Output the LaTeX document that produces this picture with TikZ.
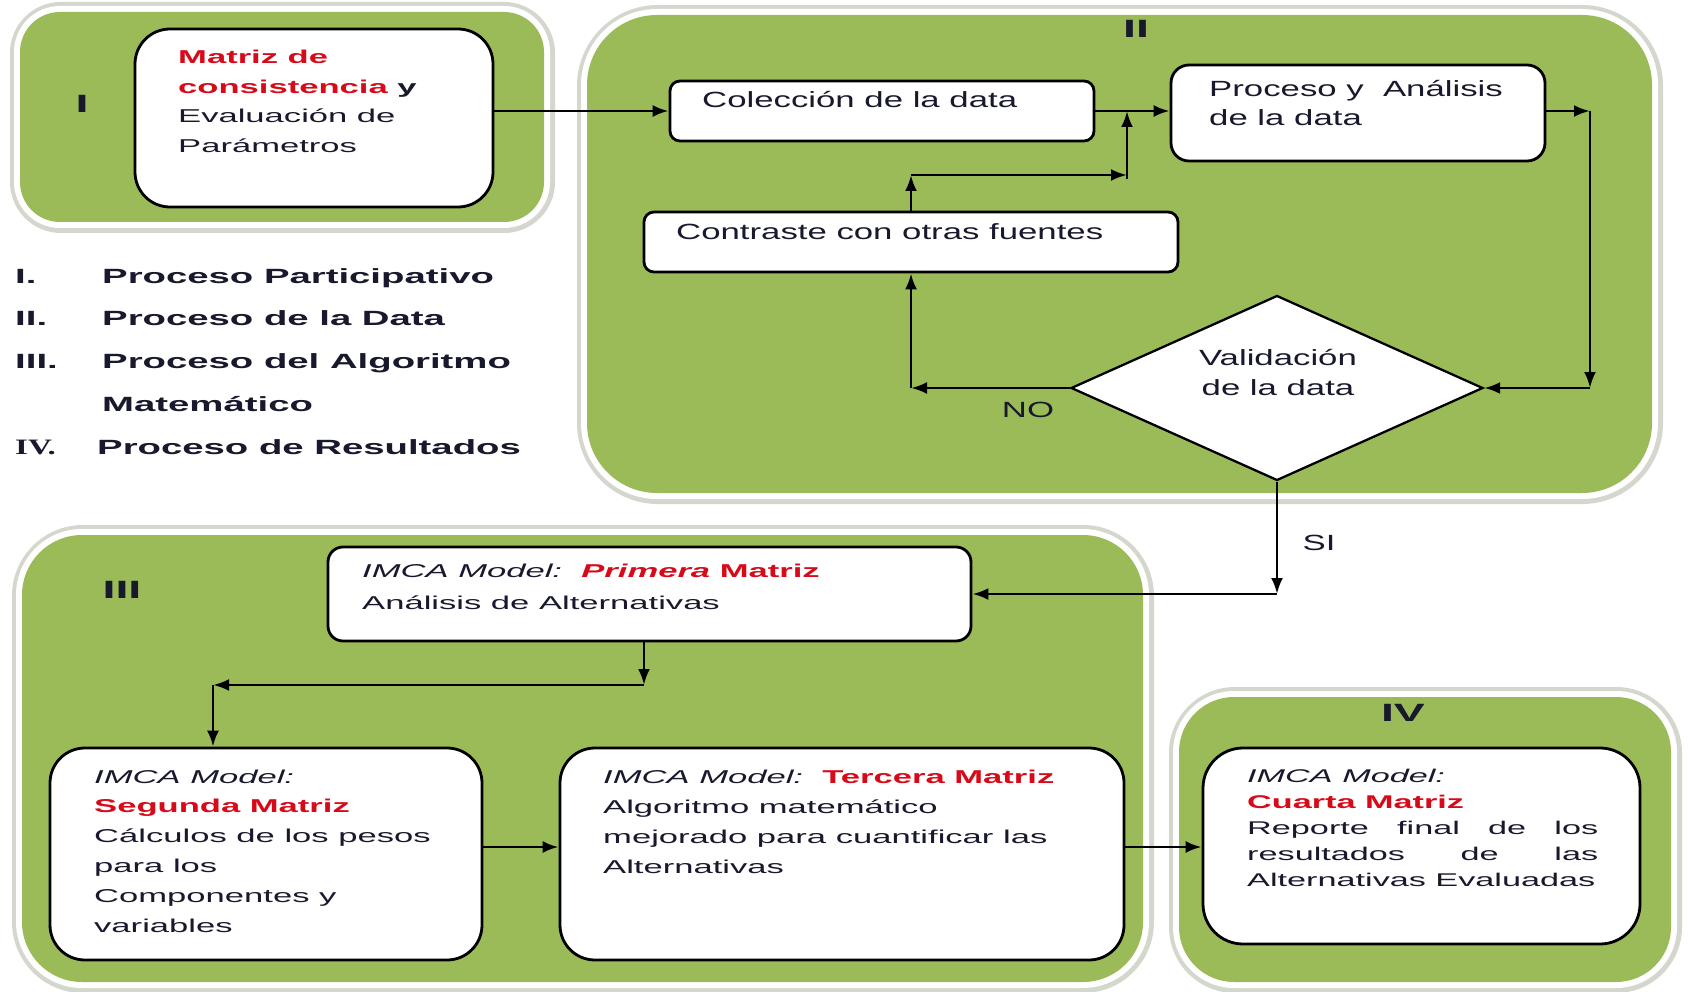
\documentclass[tikz,border=0pt]{standalone}
\usepackage{fontspec}
\setmainfont{Liberation Sans}[FakeStretch=1.86]
\newfontfamily\fII{Liberation Sans}[FakeStretch=1.58]
\newfontfamily\fser{Liberation Serif}[FakeStretch=1.5]
\usetikzlibrary{shapes.geometric,arrows.meta}
\definecolor{pgreen}{RGB}{155,187,89}
\definecolor{pring}{RGB}{212,215,205}
\definecolor{mred}{RGB}{215,10,25}
\definecolor{txt}{RGB}{25,25,45}
\tikzset{
  wbox/.style={draw=black, line width=2.8pt, fill=white, inner sep=0pt},
  arr/.style={line width=2.7pt, -{Latex[length=16pt,width=12pt]}},
  btxt/.style={inner sep=0pt, anchor=north west, align=left, text=txt,
     font=\fontsize{18.6pt}{29.5pt}\selectfont},
  iitxt/.style={inner sep=0pt, text=txt, font=\fII\fontsize{22pt}{29.5pt}\selectfont},
  legtxt/.style={inner sep=0pt, anchor=mid west, text=txt, font=\bfseries\fontsize{20.6pt}{24pt}\selectfont},
  roman/.style={inner sep=0pt, text=txt, font=\bfseries\fontsize{25pt}{26pt}\selectfont},
}
\begin{document}
\begin{tikzpicture}[x=1pt,y=-1pt]
\useasboundingbox (0,0) rectangle (1688,992);
\fill[white] (0,0) rectangle (1688,992);
% panel I
\fill[pring, rounded corners=51pt] (10,2) rectangle (555,233);
\fill[white, rounded corners=46pt] (14,6) rectangle (550,228);
\fill[pgreen, rounded corners=40pt] (20,12) rectangle (544,222);
% panel II
\fill[pring, rounded corners=81pt] (577,5) rectangle (1663,504);
\fill[white, rounded corners=76pt] (581,9) rectangle (1658,499);
\fill[pgreen, rounded corners=70pt] (587,15) rectangle (1652,493);
% panel III
\fill[pring, rounded corners=71pt] (12,525) rectangle (1154,993);
\fill[white, rounded corners=66pt] (16,529) rectangle (1149,988);
\fill[pgreen, rounded corners=60pt] (22,535) rectangle (1143,982);
% panel IV
\fill[pring, rounded corners=66pt] (1169,687) rectangle (1682,993);
\fill[white, rounded corners=61pt] (1173,691) rectangle (1677,988);
\fill[pgreen, rounded corners=55pt] (1179,697) rectangle (1671,982);

% roman labels
\node[roman] (lI) at (82,104) {I};
\node[roman] (lII) at (1136,29) {II};
\node[roman] (lIII) at (122,590) {III};
\node[roman] (lIV) at (1403,713) {IV};

% boxes
\node[wbox, minimum width=358pt, minimum height=178pt, rounded corners=35pt] (mat) at (314,118) {};
\node[wbox, minimum width=424pt, minimum height=60pt, rounded corners=10pt] (col) at (882,111) {};
\node[wbox, minimum width=374pt, minimum height=96pt, rounded corners=18pt] (pro) at (1358,113) {};
\node[wbox, minimum width=534pt, minimum height=60pt, rounded corners=10pt] (con) at (911,242) {};
\node[diamond, draw=black, line width=2.3pt, fill=white, inner sep=0pt, minimum width=412pt, minimum height=185pt] (val) at (1277,388) {};
\node[wbox, minimum width=643pt, minimum height=94pt, rounded corners=15pt] (pri) at (649.5,594) {};
\node[wbox, minimum width=432pt, minimum height=212pt, rounded corners=35pt] (seg) at (266,854) {};
\node[wbox, minimum width=564pt, minimum height=212pt, rounded corners=35pt] (ter) at (842,854) {};
\node[wbox, minimum width=437pt, minimum height=196pt, rounded corners=40pt] (cua) at (1421.5,846) {};

% box texts
\node[btxt] (tmat) at (178,43) {\strut{\color{mred}\bfseries Matriz de}\\{\color{mred}\bfseries consistencia} {\bfseries y}\\Evaluación de\\Parámetros};
\node[iitxt, anchor=mid west] (tcol) at (702,105) {Colección de la data};
\node[iitxt, anchor=north west, align=left] (tpro) at (1209,75.5) {\strut Proceso y\ \ Análisis\\de la data};
\node[iitxt, anchor=mid west] (tcon) at (676,237) {Contraste con otras fuentes};
\node[iitxt, anchor=north, align=center] (tval) at (1278,345) {\strut Validación\\de la data};
\node[iitxt, anchor=mid] (tno) at (1028,415) {NO};
\node[iitxt, anchor=mid] (tsi) at (1319,548) {SI};
\node[btxt, font=\fontsize{18.6pt}{32pt}\selectfont] (tpri) at (362,555) {\strut\textit{IMCA Model:}\ \ {\color{mred}\bfseries\itshape Primera} {\color{mred}\bfseries Matriz}\\Análisis de Alternativas};
\node[btxt, font=\fontsize{18.6pt}{29.8pt}\selectfont] (tseg) at (94,762) {\strut\textit{IMCA Model:}\\{\color{mred}\bfseries Segunda Matriz}\\Cálculos de los pesos\\para los\\Componentes y\\variables};
\node[btxt, font=\fontsize{18.6pt}{30pt}\selectfont] (tter) at (603,762) {\strut\textit{IMCA Model:}\ \ {\color{mred}\bfseries Tercera Matriz}\\Algoritmo matemático\\mejorado para cuantificar las\\Alternativas};
\node[btxt, font=\fontsize{18.4pt}{26pt}\selectfont] (tcua) at (1247,764) {\strut\textit{IMCA Model:}\\{\color{mred}\bfseries Cuarta Matriz}\\\makebox[351pt][s]{Reporte final de los}\\\makebox[351pt][s]{resultados de las}\\Alternativas Evaluadas};

% legend
\node[legtxt] (n1) at (15,281) {I.};
\node[legtxt] (g1) at (102,281) {Proceso Participativo};
\node[legtxt] (n2) at (15,323) {II.};
\node[legtxt] (g2) at (102,323) {Proceso de la Data};
\node[legtxt] (n3) at (15,366) {III.};
\node[legtxt] (g3) at (102,366) {Proceso del Algoritmo};
\node[legtxt] (g3b) at (102,409) {Matemático};
\node[legtxt, font=\fser\bfseries\fontsize{22pt}{24pt}\selectfont] (n4) at (15,452) {IV.};
\node[legtxt] (g4) at (97,452) {Proceso de Resultados};

% connectors
\coordinate (j1) at (911,175);
\coordinate (j2) at (1127,175);
\coordinate (j3) at (1127,179);
\coordinate (r1) at (1590,111);
\coordinate (s1) at (1277,594);
\coordinate (p1) at (644,685);
\coordinate (p2) at (213,685);
\coordinate (yl) at (0,847);
\draw[arr] (mat.east |- col.west) -- (col.west);
\draw[arr] (col.east) -- (col.east -| pro.west);
\draw[arr] (con.north) -- (j1);
\draw[arr] (j1) -- (j2);
\draw[arr] (j3) -- (j3 |- col.east);
\draw[arr] (pro.east |- r1) -- (r1);
\draw[arr] (r1) -- (r1 |- val.east);
\draw[arr] (r1 |- val.east) -- (val.east);
\draw[arr] (val.west) -- (val.west -| con.south);
\draw[arr] (val.west -| con.south) -- (con.south);
\draw[arr] (val.south) -- (s1);
\draw[arr] (s1) -- (pri.east);
\draw[arr] (pri.south -| p1) -- (p1);
\draw[arr] (p1) -- (p2);
\draw[arr] (p2) -- (p2 |- seg.north);
\draw[arr] (seg.east |- yl) -- (ter.west |- yl);
\draw[arr] (ter.east |- yl) -- (cua.west |- yl);
\end{tikzpicture}
\end{document}
